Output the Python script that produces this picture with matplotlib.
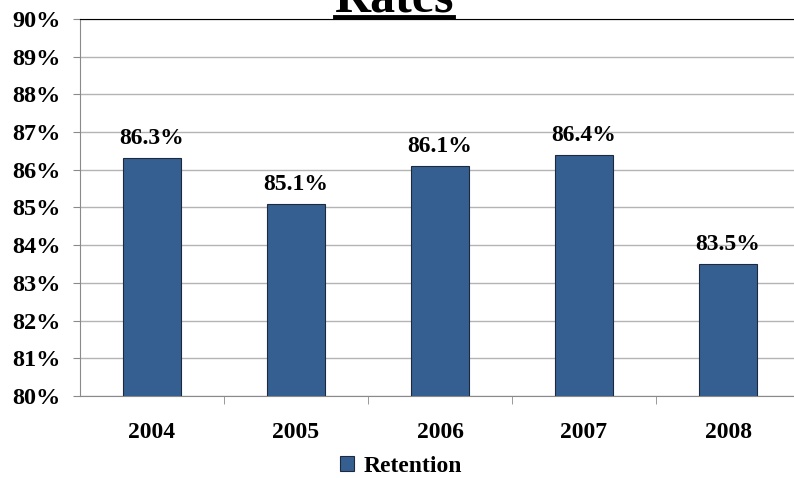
import matplotlib
matplotlib.use('Agg')
import matplotlib.pyplot as plt
from matplotlib.lines import Line2D

years = ['2004', '2005', '2006', '2007', '2008']
retention = [86.3, 85.1, 86.1, 86.4, 83.5]
y_ticks = [80, 81, 82, 83, 84, 85, 86, 87, 88, 89, 90]
series_name = 'Retention'
title_text = 'Rates'

bar_color = '#365F91'
grid_color = '#b4b4b4'

plt.rcParams['font.family'] = ['Liberation Serif', 'DejaVu Serif']
plt.rcParams['font.weight'] = 'bold'

fig = plt.figure(figsize=(7.94, 4.78), dpi=100)
ax = fig.add_axes([80 / 794, 1 - 396 / 478, 720 / 794, 377 / 478])

x = range(len(years))
bars = ax.bar(x, retention, width=0.4, bottom=0, color=bar_color,
              edgecolor='#1c2a3c', linewidth=0.8, label=series_name, zorder=3)
ax.set_ylim(80, 90)
ax.set_xlim(-0.5, len(years) - 0.5)

ax.set_yticks(y_ticks)
ax.set_yticklabels([f'{v}%' for v in y_ticks], fontsize=17.5, fontweight='bold')
ax.yaxis.grid(True, color=grid_color, linewidth=1, zorder=0)
ax.tick_params(axis='y', length=5, color='#8a8a8a', pad=9)

ax.set_xticks(list(x))
ax.set_xticklabels(years, fontsize=17, fontweight='bold')
ax.set_xticks([i + 0.5 for i in range(len(years) - 1)], minor=True)
ax.tick_params(axis='x', which='major', length=0, pad=19)
ax.tick_params(axis='x', which='minor', length=6, color='#8a8a8a')

for s in ['left', 'bottom']:
    ax.spines[s].set_color('#8a8a8a')
ax.spines['top'].set_color('black')
ax.spines['right'].set_visible(False)

for b, v in zip(bars, retention):
    ax.annotate(f'{v}%', (b.get_x() + b.get_width() / 2, v),
                xytext=(0, 6.5), textcoords='offset points',
                ha='center', va='bottom', fontsize=17, fontweight='bold')

# title, mostly cut off at the top of the picture
fig.text(0.496, 1 - 12 / 478, title_text, ha='center', va='baseline',
         fontsize=36, fontweight='bold')
fig.add_artist(Line2D([335 / 794, 453 / 794], [1 - 16.5 / 478, 1 - 16.5 / 478],
                      color='black', linewidth=3.5, transform=fig.transFigure))

fig.legend(handles=[bars], labels=[series_name], loc='center',
           bbox_to_anchor=(0.505, 1 - 466 / 478), frameon=False,
           prop={'size': 17, 'weight': 'bold'}, handlelength=0.6,
           handleheight=0.6, handletextpad=0.4)

fig.savefig('out.png', dpi=100)
